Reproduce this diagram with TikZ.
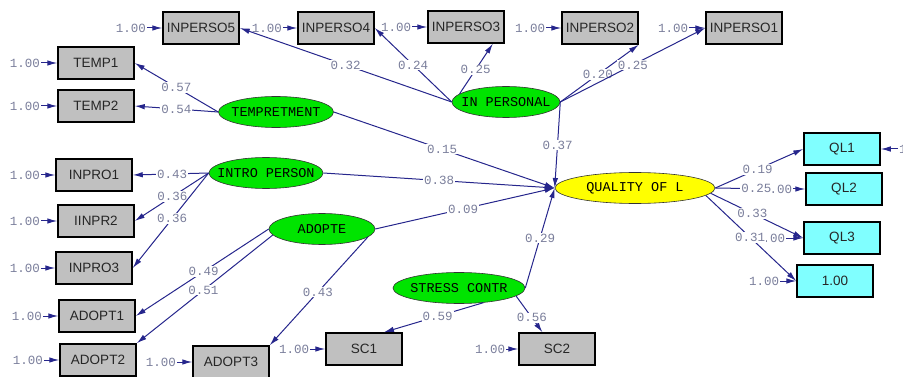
\documentclass[tikz,border=0pt]{standalone}
\usepackage{fontspec}
\setmainfont{Liberation Sans}
\setmonofont{Liberation Mono}
\usetikzlibrary{arrows.meta,shapes.geometric}

\definecolor{boxgray}{RGB}{192,192,192}
\definecolor{qlcyan}{RGB}{128,255,255}
\definecolor{lvgreen}{RGB}{0,228,0}
\definecolor{lvyellow}{RGB}{255,255,0}
\definecolor{pathblue}{RGB}{38,38,140}
\definecolor{numgray}{RGB}{122,126,155}
\newcommand{\lvtext}[1]{\makebox[0pt]{#1}}

\begin{document}
\begin{tikzpicture}[x=1pt,y=-1pt,
obs/.style={draw=black,line width=1.5pt,fill=boxgray,minimum width=76pt,minimum height=32pt,inner sep=0pt,font=\fontsize{13.5}{15}\selectfont,text=black!85},
qlobs/.style={obs,fill=qlcyan},
lat/.style={ellipse,draw=black!80,line width=0.6pt,fill=lvgreen,minimum height=31pt,inner sep=0pt,font=\ttfamily\fontsize{13.5}{15}\selectfont},
num/.style={font=\ttfamily\fontsize{12.5}{14}\selectfont,text=numgray,inner sep=1pt},
lab/.style={num,fill=white},
arr/.style={->,>={Latex[length=10pt,width=5.5pt]},draw=pathblue,line width=1pt},
pathline/.style={draw=pathblue,line width=1pt}]
\useasboundingbox (0,0) rectangle (903,377);
\clip (0,0) rectangle (903,377);

\node[obs] (p5) at (201,28) {INPERSO5};
\node[obs] (p4) at (336,28) {INPERSO4};
\node[obs] (p3) at (466,27) {INPERSO3};
\node[obs] (p2) at (600,28) {INPERSO2};
\node[obs] (p1) at (744,28) {INPERSO1};
\node[obs] (temp1) at (96,63) {TEMP1};
\node[obs] (temp2) at (96,106) {TEMP2};
\node[obs] (inpro1) at (94,175) {INPRO1};
\node[obs] (iinpr2) at (96,221) {IINPR2};
\node[obs] (inpro3) at (94,268) {INPRO3};
\node[obs] (adopt1) at (97,316) {ADOPT1};
\node[obs] (adopt2) at (98,360) {ADOPT2};
\node[obs] (adopt3) at (231,362) {ADOPT3};
\node[obs] (sc1) at (364,349) {SC1};
\node[obs] (sc2) at (557,349) {SC2};
\node[qlobs] (ql1) at (842,149) {QL1};
\node[qlobs] (ql2) at (844,189) {QL2};
\node[qlobs] (ql3) at (842,238) {QL3};
\node[qlobs] (ql4) at (835,281) {1.00};

\node[lat,minimum width=108pt] (inp) at (506,102) {\lvtext{IN PERSONAL}};
\node[lat,minimum width=115pt] (tempr) at (276,112) {\lvtext{TEMPRETMENT}};
\node[lat,minimum width=114pt] (intro) at (266,173) {\lvtext{INTRO PERSON}};
\node[lat,minimum width=106pt] (adopte) at (322,229) {\lvtext{ADOPTE}};
\node[lat,minimum width=132pt] (stress) at (459,288) {\lvtext{STRESS CONTR}};
\node[lat,minimum width=160pt,fill=lvyellow] (ql) at (635,188) {\lvtext{QUALITY OF L}};

\node[num] (e5) at (131,28) {1.00};
\node[num] (e4) at (267,28) {1.00};
\node[num] (e3) at (396,27) {1.00};
\node[num] (e2) at (530,28) {1.00};
\node[num] (e1) at (673,28) {1.00};
\node[num] (et1) at (25,63) {1.00};
\node[num] (et2) at (25,106) {1.00};
\node[num] (ei1) at (25,175) {1.00};
\node[num] (ei2) at (25,221) {1.00};
\node[num] (ei3) at (25,268) {1.00};
\node[num] (ea1) at (27,316) {1.00};
\node[num] (ea2) at (28,360) {1.00};
\node[num] (ea3) at (161,362) {1.00};
\node[num] (es1) at (294,349) {1.00};
\node[num] (es2) at (490,349) {1.00};
\node[num] (eq1) at (914,149) {1.00};
\node[num] (eq2) at (777,189) {1.00};
\node[num] (eq3) at (770,238) {1.00};
\node[num] (eq4) at (764,281) {1.00};
\draw[arr] (e5) -- (p5);
\draw[arr] (e4) -- (p4);
\draw[arr] (e3) -- (p3);
\draw[arr] (e2) -- (p2);
\draw[arr] (e1) -- (p1);
\draw[arr] (et1) -- (temp1);
\draw[arr] (et2) -- (temp2);
\draw[arr] (ei1) -- (inpro1);
\draw[arr] (ei2) -- (iinpr2);
\draw[arr] (ei3) -- (inpro3);
\draw[arr] (ea1) -- (adopt1);
\draw[arr] (ea2) -- (adopt2);
\draw[arr] (ea3) -- (adopt3);
\draw[arr] (es1) -- (sc1);
\draw[arr] (es2) -- (sc2);
\draw[arr] (eq1) -- (ql1);
\draw[arr] (eq2) -- (ql2);
\draw[arr] (eq3) -- (ql3);
\draw[arr] (eq4) -- (ql4);

\draw[arr] (inp.west) -- (p5.east) node[lab,pos=0.5]{0.32};
\draw[arr] (inp.west) -- (p4.east) node[lab,pos=0.5]{0.24};
\draw[arr] (inp.170) -- (p3.-32) node[lab,pos=0.48]{0.25};
\draw[arr] (inp.east) -- (p2.south east) node[lab,pos=0.48]{0.20};
\draw[arr] (inp.east) -- (p1.west) node[lab,pos=0.5]{0.25};
\draw[arr] (inp.east) -- (ql.west) node[lab,pos=0.5]{0.37};
\draw[arr] (tempr.west) -- (temp1.east) node[lab,pos=0.5]{0.57};
\draw[arr] (tempr.west) -- (temp2.east) node[lab,pos=0.5]{0.54};
\draw[arr] (tempr.east) -- (ql.west) node[lab,pos=0.49]{0.15};
\draw[arr] (intro.west) -- (inpro1.east) node[lab,pos=0.48]{0.43};
\draw[arr] (intro.west) -- (iinpr2.east) node[lab,pos=0.49]{0.36};
\draw[arr] (intro.west) -- (inpro3.east) node[lab,pos=0.48]{0.36};
\draw[arr] (intro.east) -- (ql.west) node[lab,pos=0.5]{0.38};
\draw[arr] (adopte.west) -- (adopt1.east) node[lab,pos=0.49]{0.49};
\draw[arr] (adopte.187) -- (adopt2.north east) node[lab,pos=0.51]{0.51};
\draw[arr] (adopte.-10) -- (adopt3.north east) node[lab,pos=0.51]{0.43};
\draw[arr] (adopte.east) -- (ql.west) node[lab,pos=0.49]{0.09};
\draw[arr] (stress.-31) -- (sc1.40) node[lab,pos=0.46]{0.59};
\draw[arr] (stress.-8) -- (sc2.131) node[lab,pos=0.6]{0.56};
\draw[arr] (stress.east) -- (ql.west) node[lab,pos=0.5]{0.29};
\draw[arr] (ql.east) -- (ql1.west) node[lab,pos=0.48]{0.19};
\draw[pathline] (ql.east) -- (eq2) node[lab,pos=0.9]{0.25};
\draw[arr] (ql.-4) -- (ql3.west) node[lab,pos=0.45]{0.33};
\draw[arr] (ql.-6) -- (ql4.west) node[lab,pos=0.49]{0.31};
\end{tikzpicture}
\end{document}
